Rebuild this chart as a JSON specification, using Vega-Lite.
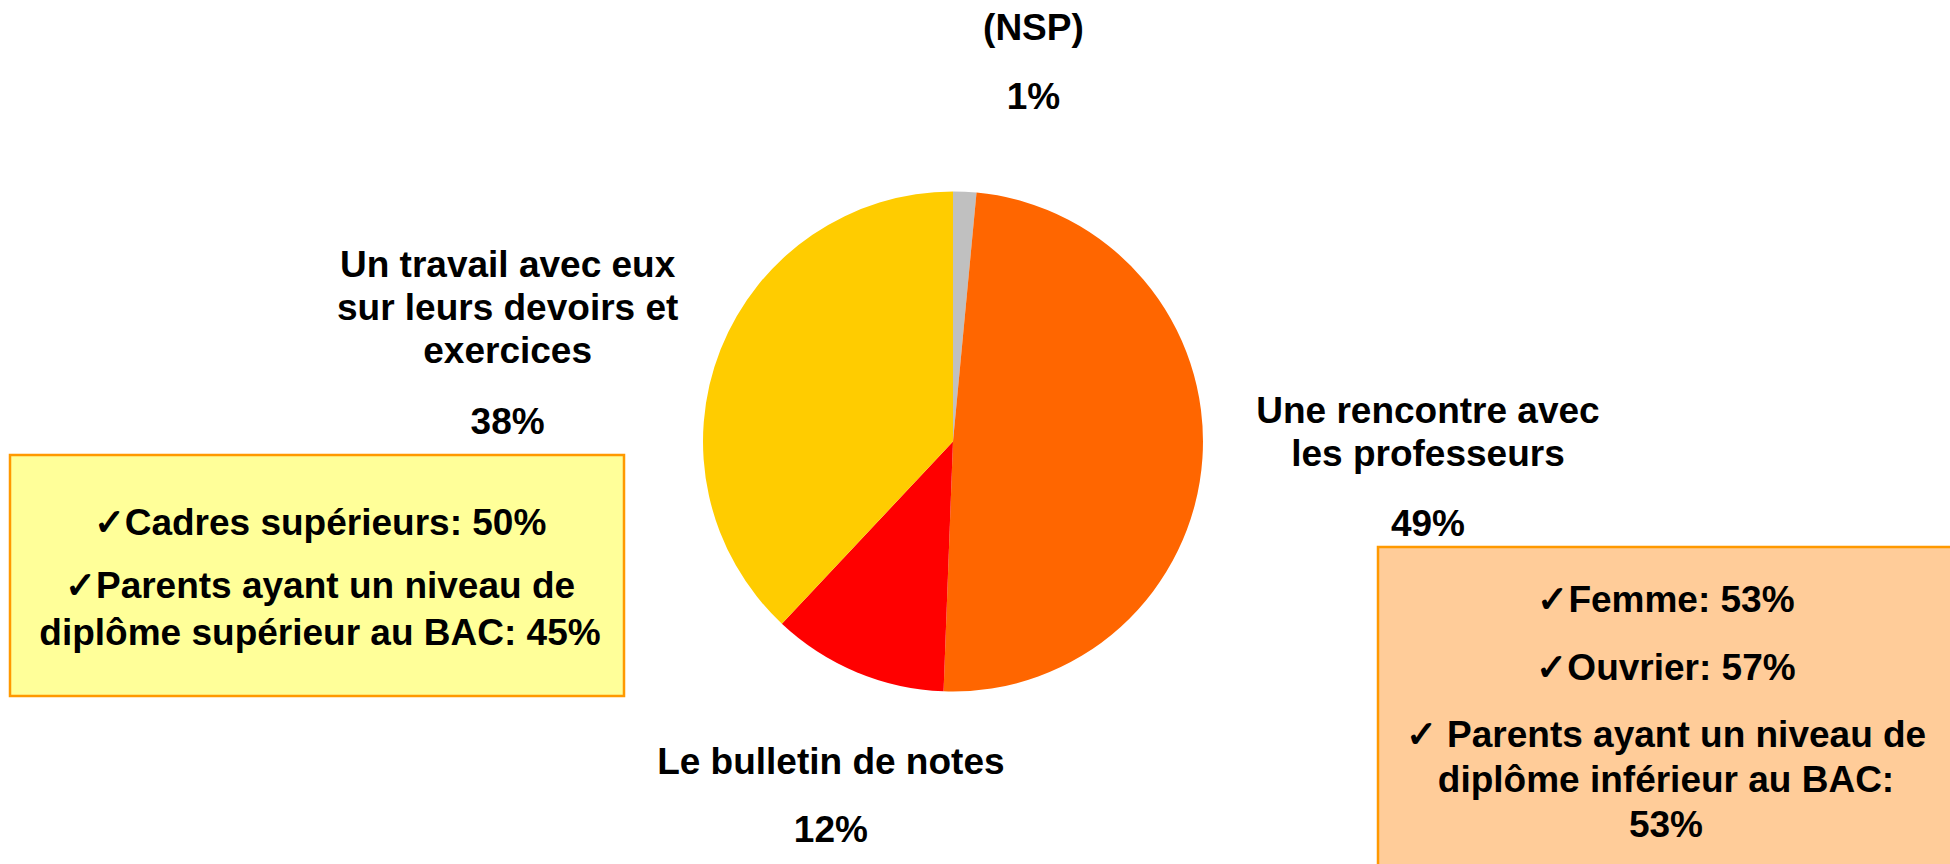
{
  "$schema": "https://vega.github.io/schema/vega-lite/v6.json",
  "width": 1906,
  "height": 845,
  "autosize": "none",
  "padding": {"left": 0, "top": 19, "right": 44, "bottom": 0},
  "background": "white",
  "config": {"view": {"stroke": null}},
  "resolve": {"scale": {"x": "independent", "y": "independent"}},
  "layer": [
    {
      "data": {"values": [{"reponse": "Un travail avec eux sur leurs devoirs et exercices"}]},
      "mark": {"type": "rect", "fill": "#FFFF99", "stroke": "#FF9900", "strokeWidth": 2.5},
      "encoding": {
        "x": {"field": "reponse", "type": "nominal", "axis": null, "scale": {"range": [10, 624], "paddingInner": 0, "paddingOuter": 0}},
        "y": {"field": "reponse", "type": "nominal", "axis": null, "scale": {"range": [436, 677], "paddingInner": 0, "paddingOuter": 0}}
      }
    },
    {
      "data": {"values": [
        {"reponse": "Un travail avec eux sur leurs devoirs et exercices", "ordre": 1, "texte": ["✓Cadres supérieurs: 50%"]},
        {"reponse": "Un travail avec eux sur leurs devoirs et exercices", "ordre": 2, "texte": ["✓Parents ayant un niveau de", "diplôme supérieur au BAC: 45%"]}
      ]},
      "mark": {"type": "text", "font": "Liberation Sans", "fontSize": 37, "fontWeight": "bold", "lineHeight": 47, "baseline": "top", "align": "center", "color": "black"},
      "encoding": {
        "x": {"field": "reponse", "type": "nominal", "axis": null, "bandPosition": 0.5, "scale": {"range": [10, 630], "paddingInner": 0, "paddingOuter": 0}},
        "y": {"field": "ordre", "type": "ordinal", "axis": null, "scale": {"type": "point", "range": [487, 550], "padding": 0}},
        "text": {"field": "texte"}
      }
    },
    {
      "data": {"values": [{"reponse": "Une rencontre avec les professeurs"}]},
      "mark": {"type": "rect", "fill": "#FFCC99", "stroke": "#FF9900", "strokeWidth": 2.5},
      "encoding": {
        "x": {"field": "reponse", "type": "nominal", "axis": null, "scale": {"range": [1378, 1970], "paddingInner": 0, "paddingOuter": 0}},
        "y": {"field": "reponse", "type": "nominal", "axis": null, "scale": {"range": [528, 870], "paddingInner": 0, "paddingOuter": 0}}
      }
    },
    {
      "data": {"values": [
        {"reponse": "Une rencontre avec les professeurs", "ordre": 1, "texte": ["✓Femme: 53%"]},
        {"reponse": "Une rencontre avec les professeurs", "ordre": 2, "texte": ["✓Ouvrier: 57%"]},
        {"reponse": "Une rencontre avec les professeurs", "ordre": 3, "texte": ["✓ Parents ayant un niveau de", "diplôme inférieur au BAC:", "53%"]}
      ]},
      "mark": {"type": "text", "font": "Liberation Sans", "fontSize": 37, "fontWeight": "bold", "lineHeight": 45, "baseline": "top", "align": "center", "color": "black"},
      "encoding": {
        "x": {"field": "reponse", "type": "nominal", "axis": null, "bandPosition": 0.5, "scale": {"range": [1378, 1954], "paddingInner": 0, "paddingOuter": 0}},
        "y": {"field": "ordre", "type": "ordinal", "axis": null, "scale": {"type": "point", "range": [564, 699], "padding": 0}},
        "text": {"field": "texte"}
      }
    },
    {
      "data": {"values": [
        {"reponse": "(NSP)", "ord": 1, "value": 1.5, "pct": "1%", "name": ["(NSP)"]},
        {"reponse": "Une rencontre avec les professeurs", "ord": 2, "value": 49.1, "pct": "49%", "name": ["Une rencontre avec", "les professeurs"]},
        {"reponse": "Le bulletin de notes", "ord": 3, "value": 11.4, "pct": "12%", "name": ["Le bulletin de notes"]},
        {"reponse": "Un travail avec eux sur leurs devoirs et exercices", "ord": 4, "value": 38.0, "pct": "38%", "name": ["Un travail avec eux", "sur leurs devoirs et", "exercices"]}
      ]},
      "encoding": {
        "theta": {"field": "value", "type": "quantitative", "stack": true},
        "order": {"field": "ord", "type": "quantitative"},
        "detail": {"field": "reponse", "type": "nominal"}
      },
      "layer": [
        {
          "mark": {"type": "arc", "outerRadius": 250},
          "encoding": {
            "color": {"field": "reponse", "type": "nominal", "legend": null,
              "scale": {"domain": ["(NSP)", "Une rencontre avec les professeurs", "Le bulletin de notes", "Un travail avec eux sur leurs devoirs et exercices"],
                        "range": ["#C0C0C0", "#FF6600", "#FF0000", "#FFCC00"]}}
          }
        },
        {"mark": {"type": "text", "radius": 349, "dx": 64, "dy": -64, "font": "Liberation Sans", "fontSize": 37, "fontWeight": "bold", "lineHeight": 42, "baseline": "middle", "align": "center", "color": "black"},
         "encoding": {"text": {"condition": {"test": "datum.ord === 1", "field": "name"}, "value": ""}}},
        {"mark": {"type": "text", "radius": 349, "dx": 64, "dy": 5, "font": "Liberation Sans", "fontSize": 37, "fontWeight": "bold", "baseline": "middle", "align": "center", "color": "black"},
         "encoding": {"text": {"condition": {"test": "datum.ord === 1", "field": "pct"}, "value": ""}}},
        {"mark": {"type": "text", "radius": 479, "dx": -3, "dy": -61, "font": "Liberation Sans", "fontSize": 37, "fontWeight": "bold", "lineHeight": 43, "baseline": "middle", "align": "center", "color": "black"},
         "encoding": {"text": {"condition": {"test": "datum.ord === 2", "field": "name"}, "value": ""}}},
        {"mark": {"type": "text", "radius": 479, "dx": -3, "dy": 52, "font": "Liberation Sans", "fontSize": 37, "fontWeight": "bold", "baseline": "middle", "align": "center", "color": "black"},
         "encoding": {"text": {"condition": {"test": "datum.ord === 2", "field": "pct"}, "value": ""}}},
        {"mark": {"type": "text", "radius": 405, "dx": 34, "dy": -52, "font": "Liberation Sans", "fontSize": 37, "fontWeight": "bold", "lineHeight": 42, "baseline": "middle", "align": "center", "color": "black"},
         "encoding": {"text": {"condition": {"test": "datum.ord === 3", "field": "name"}, "value": ""}}},
        {"mark": {"type": "text", "radius": 405, "dx": 34, "dy": 16, "font": "Liberation Sans", "fontSize": 37, "fontWeight": "bold", "baseline": "middle", "align": "center", "color": "black"},
         "encoding": {"text": {"condition": {"test": "datum.ord === 3", "field": "pct"}, "value": ""}}},
        {"mark": {"type": "text", "radius": 422, "dx": -53, "dy": -20, "font": "Liberation Sans", "fontSize": 37, "fontWeight": "bold", "lineHeight": 43, "baseline": "middle", "align": "center", "color": "black"},
         "encoding": {"text": {"condition": {"test": "datum.ord === 4", "field": "name"}, "value": ""}}},
        {"mark": {"type": "text", "radius": 422, "dx": -53, "dy": 137, "font": "Liberation Sans", "fontSize": 37, "fontWeight": "bold", "baseline": "middle", "align": "center", "color": "black"},
         "encoding": {"text": {"condition": {"test": "datum.ord === 4", "field": "pct"}, "value": ""}}}
      ]
    }
  ]
}
